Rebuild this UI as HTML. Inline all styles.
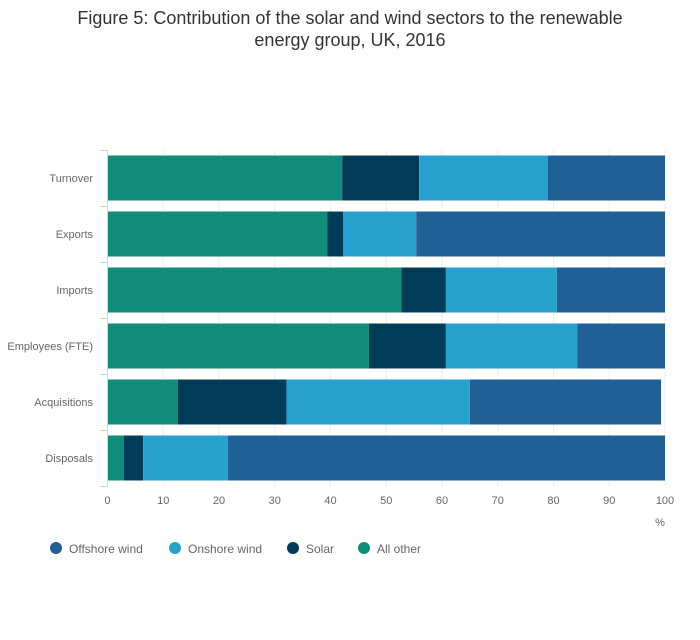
<!DOCTYPE html>
<html><head><meta charset="utf-8"><style>
body{margin:0;background:#fff;font-family:"Liberation Sans",sans-serif}
</style></head><body>
<svg width="700" height="635" viewBox="0 0 700 635">
<text x="350" y="24" text-anchor="middle" font-size="18" fill="#333">Figure 5: Contribution of the solar and wind sectors to the renewable</text>
<text x="350" y="46" text-anchor="middle" font-size="18" fill="#333">energy group, UK, 2016</text>
<g id="grid"></g><g id="bars"></g><g id="axes"></g><g id="legend"></g>
</svg>
<script>
const categories=["Turnover","Exports","Imports","Employees (FTE)","Acquisitions","Disposals"];
const allOther=[42.1,39.4,52.7,46.9,12.6,2.9];
const solar=[13.8,2.9,8.0,13.8,19.5,3.5];
const onshore=[23.1,13.1,19.9,23.6,32.9,15.2];
const offshore=[21.0,44.6,19.4,15.7,34.3,78.4];
const ticks=[0,10,20,30,40,50,60,70,80,90,100];
const series=[["All other",allOther,"#118c7b"],["Solar",solar,"#003c57"],["Onshore wind",onshore,"#27a0cc"],["Offshore wind",offshore,"#206095"]];
const NS="http://www.w3.org/2000/svg";
const x0=107.5,x1=665,plotTop=150,band=56;
const xs=v=>x0+(x1-x0)*v/100;
function mk(t,a,p){const e=document.createElementNS(NS,t);for(const k in a)e.setAttribute(k,a[k]);p.appendChild(e);return e;}
const grid=document.getElementById('grid'),bars=document.getElementById('bars'),axes=document.getElementById('axes'),leg=document.getElementById('legend');
ticks.forEach(t=>{
 const l=mk('line',{x1:xs(t),x2:xs(t),y1:plotTop,y2:plotTop+band*6,stroke:'#eeeeee','stroke-width':1},grid);
 
 
 const tx=mk('text',{x:xs(t),y:504,'text-anchor':'middle','font-size':11,fill:'#666'},axes);tx.textContent=t;
 
 
});
const u=mk('text',{x:660,y:526,'text-anchor':'middle','font-size':11,fill:'#666'},axes);u.textContent='%';


const al=mk('line',{x1:x0,x2:x0,y1:plotTop,y2:plotTop+band*6,stroke:'#ccd6eb'},axes);


for(let i=0;i<=6;i++){const tk=mk('line',{x1:x0-8,x2:x0,y1:plotTop+band*i+0.5,y2:plotTop+band*i+0.5,stroke:'#ccd6eb'},axes);
 
 }
categories.forEach((c,i)=>{
 const yc=plotTop+band*i+band/2;
 const tx=mk('text',{x:93,y:yc+4,'text-anchor':'end','font-size':11,fill:'#666'},axes);tx.textContent=c;
 
 
 let acc=0;
 series.forEach(s=>{
  const v=s[1][i];
  const r=mk('rect',{x:xs(acc),y:yc-22.5,width:xs(acc+v)-xs(acc),height:45,fill:s[2]},bars);
  
  
  acc+=v;
 });
});
const legItems=[["Offshore wind","#206095",50],["Onshore wind","#27a0cc",169],["Solar","#003c57",287],["All other","#118c7b",358]];
legItems.forEach(l=>{
 const g=mk('g',{},leg);
 
 
 mk('circle',{cx:l[2]+6,cy:548,r:6,fill:l[1]},g);
 const t=mk('text',{x:l[2]+19,y:553,'font-size':12,fill:'#666'},g);t.textContent=l[0];
});
</script>
</body></html>
